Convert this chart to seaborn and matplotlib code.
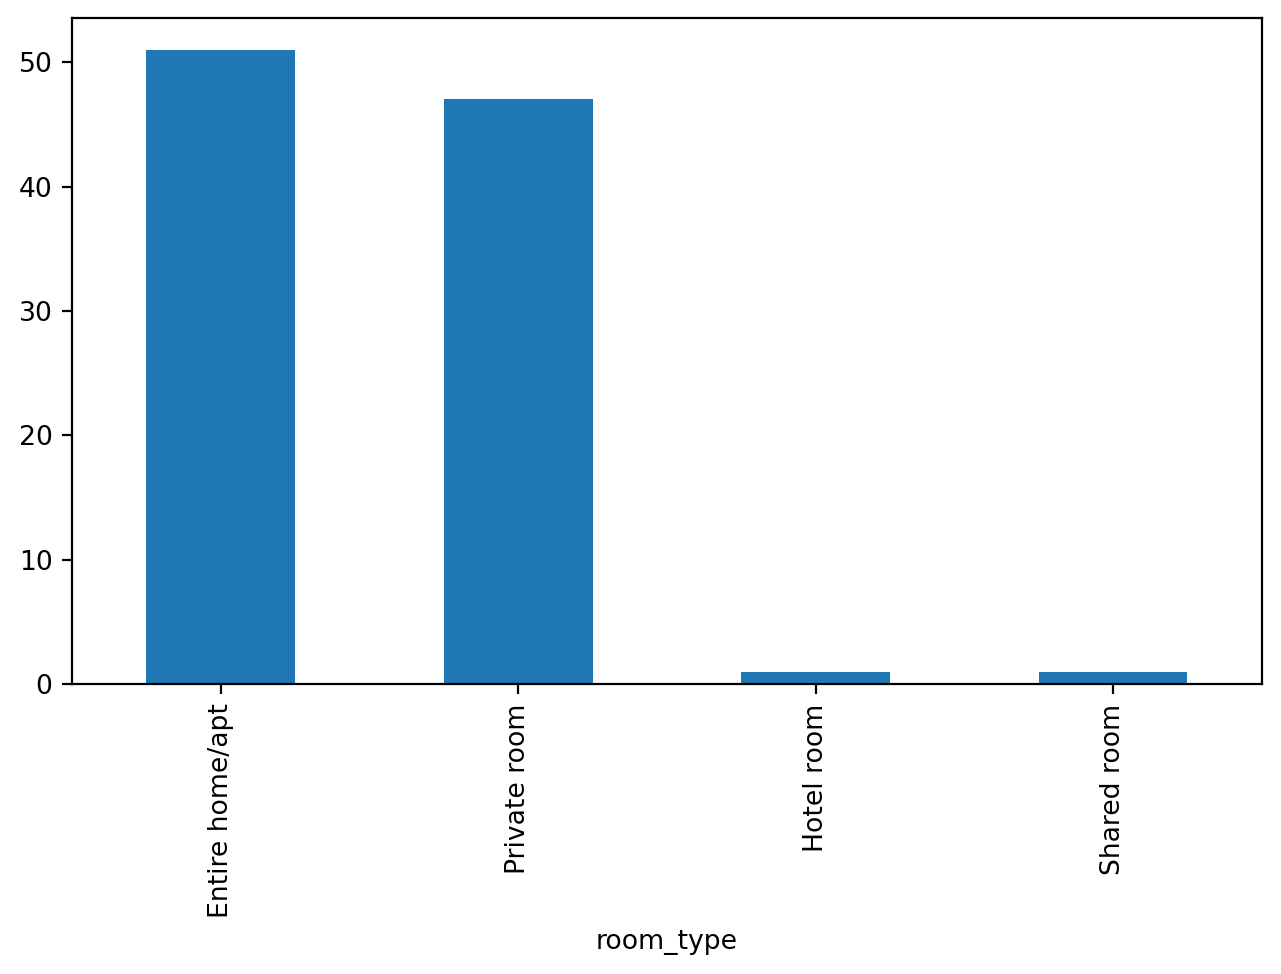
import matplotlib
matplotlib.use("Agg")
import matplotlib.pyplot as plt
import seaborn as sns
import pandas as pd

# room type counts
room_types = ["Entire home/apt", "Private room", "Hotel room", "Shared room"]
counts = [51, 47, 1, 1]

plt.rcParams["font.size"] = 9.6

df = pd.DataFrame({"room_type": room_types, "count": counts})

fig, ax = plt.subplots(figsize=(6.405, 4.87), dpi=200)
sns.barplot(data=df, x="room_type", y="count", color="#1f77b4",
            saturation=1, width=0.5, ax=ax)

ax.set_xlabel("room_type")
ax.set_ylabel("")
ax.tick_params(axis="x", labelrotation=90)
ax.set_xlim(-0.5, 3.5)

fig.subplots_adjust(left=0.0562, right=0.985, top=0.9815, bottom=0.2977)
plt.savefig("out.png", dpi=200)
